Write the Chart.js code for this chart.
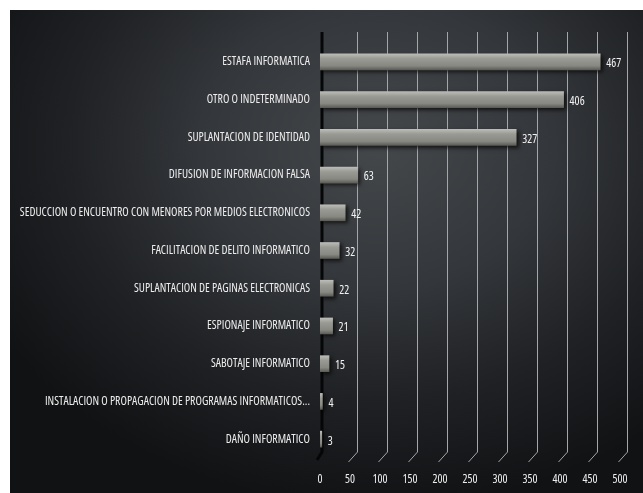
<!DOCTYPE html>
<html>
<head>
<meta charset="utf-8">
<script src="https://cdn.jsdelivr.net/npm/chart.js@4.4.1/dist/chart.umd.min.js"></script>
<style>
  html, body { margin: 0; padding: 0; background: #ffffff; }
  #wrap { position: relative; width: 643px; height: 493px; }
  #bg {
    position: absolute; left: 10px; top: 10px; width: 633px; height: 483px;
    background: radial-gradient(ellipse 70% 75% at 58% 28%, #45484b 0%, #33363a 40%, #1f2124 70%, #101214 100%);
  }
  canvas { position: absolute; left: 0; top: 0; }
</style>
</head>
<body>
<div id="wrap">
  <div id="bg"></div>
  <canvas id="delitosChart" width="643" height="493"></canvas>
</div>
<script>
// categorias (de arriba a abajo)
const categorias = [
  "ESTAFA INFORMATICA",
  "OTRO O INDETERMINADO",
  "SUPLANTACION DE IDENTIDAD",
  "DIFUSION DE INFORMACION FALSA",
  "SEDUCCION O ENCUENTRO CON MENORES POR MEDIOS ELECTRONICOS",
  "FACILITACION DE DELITO INFORMATICO",
  "SUPLANTACION DE PAGINAS ELECTRONICAS",
  "ESPIONAJE INFORMATICO",
  "SABOTAJE INFORMATICO",
  "INSTALACION O PROPAGACION DE PROGRAMAS INFORMATICOS...",
  "DAÑO INFORMATICO"
];
const casos = [467, 406, 327, 63, 42, 32, 22, 21, 15, 4, 3];
const ticksX = [0, 50, 100, 150, 200, 250, 300, 350, 400, 450, 500];

// Open Sans es variable: "condensed" da el ancho estrecho del original
const FONT = "'Open Sans', sans-serif";
const FONT_SIZE = 11.8;

// lineas de la rejilla con perspectiva (como el grafico 3D original)
const perspectiveGrid = {
  id: 'perspectiveGrid',
  beforeDatasetsDraw(chart) {
    const { ctx, chartArea, scales: { x } } = chart;
    ctx.save();
    ctx.strokeStyle = '#a4a6a7';
    ctx.lineWidth = 1;
    ticksX.forEach((v, i) => {
      if (i === 0) return;
      const px = Math.round(x.getPixelForValue(v)) + 0.5;
      ctx.beginPath();
      ctx.moveTo(px + 7, chartArea.top - 11);
      ctx.lineTo(px + 7, chartArea.bottom - 6);
      ctx.lineTo(px - 2, chartArea.bottom + 4);
      ctx.stroke();
    });
    // pared oscura en el cero
    const x0 = x.getPixelForValue(0);
    ctx.strokeStyle = '#050607';
    ctx.lineWidth = 3;
    ctx.beginPath();
    ctx.moveTo(x0 + 2, chartArea.top - 11);
    ctx.lineTo(x0 + 2, chartArea.bottom - 6);
    ctx.lineTo(x0 - 3, chartArea.bottom + 2);
    ctx.stroke();
    ctx.restore();
  },
  beforeDatasetDraw(chart) {
    const ctx = chart.ctx;
    ctx.save();
    ctx.shadowColor = 'rgba(0,0,0,0.7)';
    ctx.shadowBlur = 4;
    ctx.shadowOffsetX = 2;
    ctx.shadowOffsetY = 2;
  },
  afterDatasetDraw(chart) {
    chart.ctx.restore();
  },
  afterDatasetsDraw(chart) {
    const ctx = chart.ctx;
    const meta = chart.getDatasetMeta(0);
    ctx.save();
    ctx.fillStyle = '#f2f2f2';
    ctx.font = 'condensed ' + FONT_SIZE + 'px ' + FONT;
    ctx.textBaseline = 'middle';
    ctx.textAlign = 'left';
    meta.data.forEach((bar, i) => {
      ctx.fillText(casos[i], bar.x + 6, bar.y + 2);
    });
    ctx.restore();
  }
};

const ctx = document.getElementById('delitosChart').getContext('2d');

new Chart(ctx, {
  type: 'bar',
  data: {
    labels: categorias,
    datasets: [{
      data: casos,
      barThickness: 16,
      borderWidth: 0,
      backgroundColor: function (c) {
        const y = c.chart.scales.y;
        const yc = y ? y.getPixelForValue(c.dataIndex) : NaN;
        if (!isFinite(yc)) return '#8d8d88';
        const g = c.chart.ctx.createLinearGradient(0, yc - 8, 0, yc + 8);
        g.addColorStop(0, '#bcbcb6');
        g.addColorStop(0.3, '#9a9a94');
        g.addColorStop(0.75, '#888882');
        g.addColorStop(1, '#5c5c58');
        return g;
      }
    }]
  },
  options: {
    indexAxis: 'y',
    responsive: false,
    animation: false,
    layout: { padding: { left: 0, right: 23, top: 43, bottom: 0 } },
    plugins: {
      legend: { display: false },
      tooltip: { enabled: false }
    },
    scales: {
      x: {
        min: 0,
        max: 500,
        afterFit: function (scale) { scale.height = 35; },
        grid: { display: false, drawTicks: false },
        border: { display: false },
        ticks: {
          stepSize: 50,
          color: '#ededed',
          padding: 15,
          font: { family: FONT, size: FONT_SIZE, weight: 'condensed' }
        }
      },
      y: {
        afterFit: function (scale) { scale.width = 320; },
        grid: { display: false, drawTicks: false },
        border: { display: false },
        ticks: {
          color: '#ededed',
          padding: 10,
          autoSkip: false,
          font: { family: FONT, size: FONT_SIZE, weight: 'condensed' }
        }
      }
    }
  },
  plugins: [perspectiveGrid]
});
</script>
</body>
</html>
